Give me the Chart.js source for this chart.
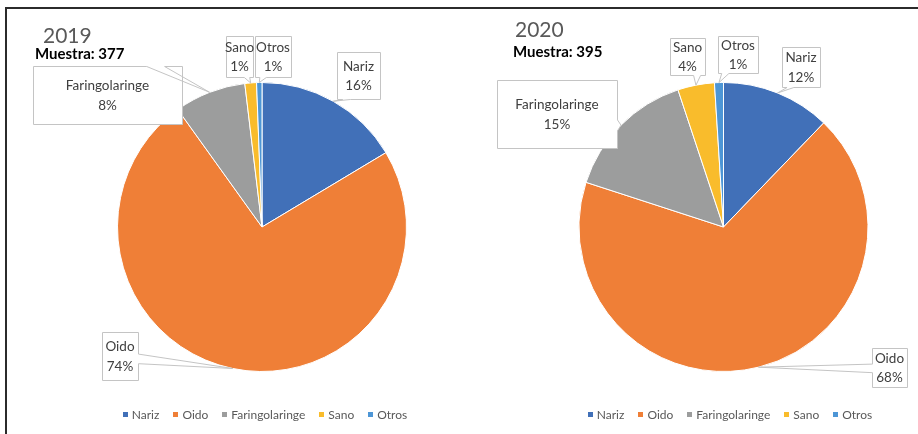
<!DOCTYPE html>
<html><head><meta charset="utf-8">
<script src="https://cdn.jsdelivr.net/npm/chart.js@4"></script>
<style>
html,body{margin:0;padding:0;background:#fff;}
#wrap{position:relative;width:918px;height:434px;overflow:hidden;background:#fff;}
#frame{position:absolute;left:5px;top:7px;width:913px;height:427px;border-top:2px solid #2b2b2b;border-left:2px solid #2b2b2b;box-sizing:border-box;}
.c{position:absolute;top:0;width:459px;height:434px;}
</style></head><body>
<div id="wrap"><div id="frame"></div>
<div class="c" style="left:0"><canvas id="c1" width="459" height="434"></canvas></div>
<div class="c" style="left:459px"><canvas id="c2" width="459" height="434"></canvas></div>
</div>
<script>
// ---- data ----
const categories = ['Nariz', 'Oido', 'Faringolaringe', 'Sano', 'Otros'];
const years = ['2019', '2020'];
const samples = [377, 395];
const pct2019 = [16.4, 73.7, 8.0, 1.3, 0.6];
const pct2020 = [12.2, 67.8, 14.9, 4.1, 1.0];
const colors = ['#4170B8', '#EF7F37', '#9C9D9D', '#F9BC2C', '#4D96D6'];

// ---- layout (positions / styles only) ----
const layout2019 = {
  padding: {left: 116.5, top: 82, right: 51.5, bottom: 62},
  title: {x: 43, y: 43}, sample: {x: 35, y: 58.5}, legendCx: 265,
  boxes: [
    {x: 337, y: 52, w: 43, h: 47, edge: 'bottom', f: [0.12, 0.3]},
    {x: 102, y: 332, w: 36, h: 48, edge: 'right', f: [0.45, 0.65]},
    {x: 33, y: 66, w: 149, h: 58, edge: 'top', f: [0.76, 0.88]},
    {x: 226, y: 36, w: 27, h: 41, edge: 'bottom', f: [0.66, 0.86]},
    {x: 255, y: 36, w: 36, h: 41, edge: 'bottom', f: [0.12, 0.3]}
  ]
};
const layout2020 = {
  padding: {left: 119, top: 82, right: 49, bottom: 62},
  title: {x: 56, y: 37}, sample: {x: 54, y: 56.5}, legendCx: 271,
  boxes: [
    {x: 323, y: 47, w: 38, h: 40, edge: 'bottom', f: [0.12, 0.3]},
    {x: 413, y: 348, w: 35, h: 39, edge: 'left', f: [0.4, 0.62]},
    {x: 38, y: 80, w: 120, h: 68, edge: 'right', f: [0.58, 0.74]},
    {x: 211, y: 38, w: 35, h: 37, edge: 'bottom', f: [0.66, 0.86]},
    {x: 259, y: 36, w: 40, h: 37, edge: 'bottom', f: [0.08, 0.26]}
  ]
};

const FONT = 'Lato, "Open Sans", sans-serif';

const decorPlugin = {
  id: 'decor',
  afterDatasetsDraw(chart, args, opts) {
    const ctx = chart.ctx;
    const meta = chart.getDatasetMeta(0);
    const data = chart.data.datasets[0].data;
    const total = data.reduce((a, b) => a + b, 0);
    ctx.save();
    opts.boxes.forEach((b, i) => {
      const p = meta.data[i].getProps(['x', 'y', 'startAngle', 'endAngle', 'outerRadius'], true);
      const a = (p.startAngle + p.endAngle) / 2;
      const tx = p.x + Math.cos(a) * p.outerRadius, ty = p.y + Math.sin(a) * p.outerRadius;
      const x = Math.round(b.x) + 0.5, y = Math.round(b.y) + 0.5, w = b.w, h = b.h, f = b.f;
      ctx.beginPath();
      ctx.moveTo(x, y);
      if (b.edge === 'top') { ctx.lineTo(x + w * f[0], y); ctx.lineTo(tx, ty); ctx.lineTo(x + w * f[1], y); }
      ctx.lineTo(x + w, y);
      if (b.edge === 'right') { ctx.lineTo(x + w, y + h * f[0]); ctx.lineTo(tx, ty); ctx.lineTo(x + w, y + h * f[1]); }
      ctx.lineTo(x + w, y + h);
      if (b.edge === 'bottom') { ctx.lineTo(x + w * f[1], y + h); ctx.lineTo(tx, ty); ctx.lineTo(x + w * f[0], y + h); }
      ctx.lineTo(x, y + h);
      if (b.edge === 'left') { ctx.lineTo(x, y + h * f[1]); ctx.lineTo(tx, ty); ctx.lineTo(x, y + h * f[0]); }
      ctx.closePath();
      ctx.fillStyle = '#ffffff';
      ctx.fill();
      ctx.strokeStyle = '#C4C4C4';
      ctx.lineWidth = 1;
      ctx.stroke();
      ctx.fillStyle = '#404040';
      ctx.font = '13.5px ' + FONT;
      ctx.textAlign = 'center';
      ctx.textBaseline = 'middle';
      const cx = b.x + w / 2, cy = b.y + h / 2 + 0.5;
      ctx.fillText(chart.data.labels[i], cx, cy - 9.75);
      ctx.fillText(Math.round(data[i] / total * 100) + '%', cx, cy + 9.75);
    });
    // title
    ctx.textAlign = 'left';
    ctx.textBaseline = 'alphabetic';
    ctx.fillStyle = '#595959';
    ctx.font = '21px ' + FONT;
    ctx.fillText(opts.year, opts.title.x, opts.title.y);
    ctx.fillStyle = '#000000';
    ctx.font = 'bold 15px ' + FONT;
    ctx.fillText('Muestra: ' + opts.sampleN, opts.sample.x, opts.sample.y);
    // legend
    ctx.font = '12px ' + FONT;
    const labels = chart.data.labels;
    const bg = chart.data.datasets[0].backgroundColor;
    const gap = 14, sq = 5, tgap = 4;
    const widths = labels.map(l => sq + tgap + ctx.measureText(l).width);
    const totalW = widths.reduce((s, v) => s + v, 0) + gap * (labels.length - 1);
    let lx = opts.legendCx - totalW / 2;
    const ly = 415;
    ctx.textBaseline = 'middle';
    labels.forEach((l, i) => {
      ctx.fillStyle = bg[i];
      ctx.fillRect(Math.round(lx), ly - 3, sq, sq);
      ctx.fillStyle = '#595959';
      ctx.fillText(l, lx + sq + tgap, ly);
      lx += widths[i] + gap;
    });
    ctx.restore();
  }
};

function makePie(id, values, lay, year, sampleN) {
  new Chart(document.getElementById(id), {
    type: 'pie',
    data: {
      labels: categories,
      datasets: [{data: values, backgroundColor: colors, borderColor: '#ffffff', borderWidth: 1}]
    },
    options: {
      responsive: false,
      animation: false,
      devicePixelRatio: 1,
      layout: {padding: lay.padding},
      plugins: {
        legend: {display: false},
        tooltip: {enabled: false},
        decor: {boxes: lay.boxes, title: lay.title, sample: lay.sample, legendCx: lay.legendCx, year: year, sampleN: sampleN}
      }
    },
    plugins: [decorPlugin]
  });
}
makePie('c1', pct2019, layout2019, years[0], samples[0]);
makePie('c2', pct2020, layout2020, years[1], samples[1]);
</script>
</body></html>
